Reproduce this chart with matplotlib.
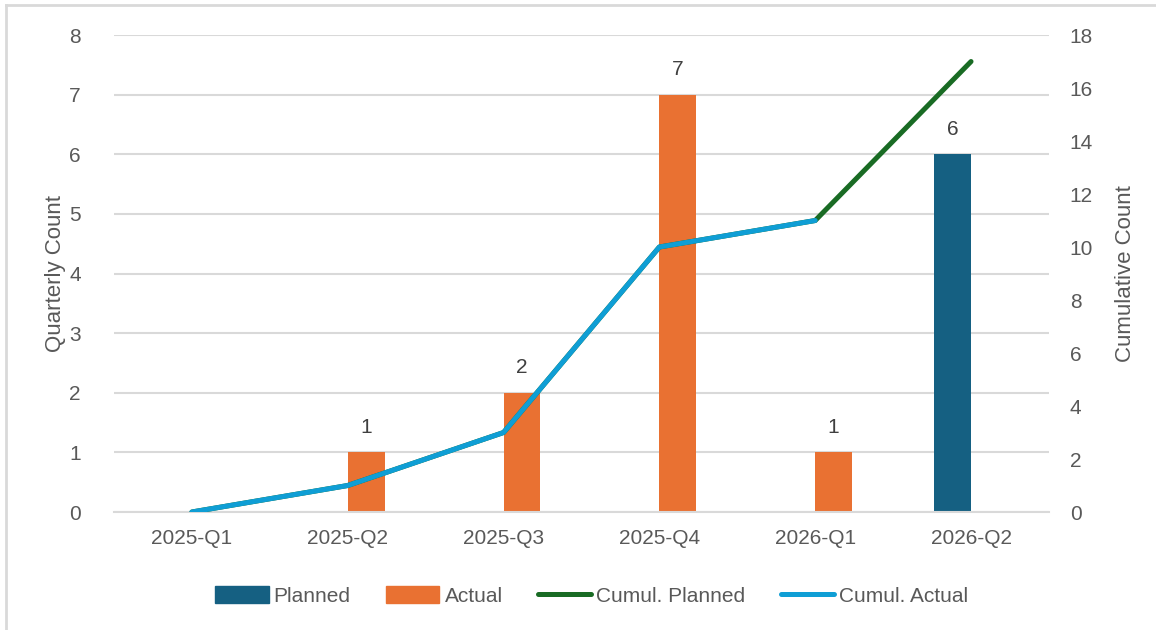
import numpy as np
import matplotlib
matplotlib.use("Agg")
import matplotlib.pyplot as plt
from matplotlib.lines import Line2D
from matplotlib.patches import Patch

quarters = ["2025-Q1", "2025-Q2", "2025-Q3", "2025-Q4", "2026-Q1", "2026-Q2"]
planned = [np.nan, np.nan, np.nan, np.nan, np.nan, 6]
actual = [np.nan, 1, 2, 7, 1, np.nan]
cumul_planned = [0, 1, 3, 10, 11, 17]
cumul_actual = [0, 1, 3, 10, 11, np.nan]

C_PLAN = "#156082"
C_ACT = "#E97132"
C_CPLAN = "#196B24"
C_CACT = "#0F9ED5"
TXT = "#595959"
GRID = "#D9D9D9"

plt.rcParams["font.family"] = ["Liberation Sans", "DejaVu Sans"]

fig = plt.figure(figsize=(11.56, 6.3), dpi=100)
ax = fig.add_axes([0.0986, 0.1873, 0.8088, 0.7571])
ax2 = ax.twinx()

x = np.arange(len(quarters))
w = 0.237
b1 = ax.bar(x - w / 2, planned, w, color=C_PLAN, zorder=2)
b2 = ax.bar(x + w / 2, actual, w, color=C_ACT, zorder=2)
for bars, vals in ((b1, planned), (b2, actual)):
    for rect, v in zip(bars, vals):
        if np.isnan(v):
            continue
        ax.text(rect.get_x() + rect.get_width() / 2, v + 0.26, f"{v:g}",
                ha="center", va="bottom", fontsize=15, color="#404040")

ax2.plot(x, cumul_planned, color=C_CPLAN, lw=3.6, solid_capstyle="round", zorder=3)
ax2.plot(x, cumul_actual, color=C_CACT, lw=3.6, solid_capstyle="round", zorder=4)

ax.set_xlim(-0.5, len(quarters) - 0.5)
ax.set_ylim(0, 8)
ax2.set_ylim(0, 18)
ax.set_yticks(range(0, 9))
ax2.set_yticks(range(0, 19, 2))
ax.set_xticks(x)
ax.set_xticklabels(quarters)

ax.yaxis.grid(True, color=GRID, lw=1.5, zorder=0)
ax.set_axisbelow(True)
for a in (ax, ax2):
    for s in a.spines.values():
        s.set_visible(False)
    a.tick_params(length=0, labelsize=15, colors=TXT)
ax.spines["bottom"].set_visible(True)
ax.spines["bottom"].set_color(GRID)
ax.spines["bottom"].set_linewidth(1.5)
ax.tick_params(axis="y", pad=24)
ax.tick_params(axis="x", pad=12)
ax2.tick_params(axis="y", pad=15)

ax.set_ylabel("Quarterly Count", fontsize=16, color=TXT, labelpad=2)
ax2.set_ylabel("Cumulative Count", fontsize=16, color=TXT, labelpad=16)

handles = [
    Patch(color=C_PLAN, label="Planned"),
    Patch(color=C_ACT, label="Actual"),
    Line2D([], [], color=C_CPLAN, lw=3.6, solid_capstyle="round", label="Cumul. Planned"),
    Line2D([], [], color=C_CACT, lw=3.6, solid_capstyle="round", label="Cumul. Actual"),
]
leg = fig.legend(handles=handles, loc="center", bbox_to_anchor=(0.512, 0.054), ncol=4,
                 frameon=False, handlelength=2.55, handleheight=0.85, handletextpad=0.25,
                 columnspacing=1.7, prop={"size": 15})
for t in leg.get_texts():
    t.set_color(TXT)

# chart frame edges
fig.add_artist(Line2D([0.0048, 0.0048], [0, 0.9925], color=GRID, lw=2, transform=fig.transFigure))
fig.add_artist(Line2D([0.0048, 1], [0.9925, 0.9925], color=GRID, lw=2, transform=fig.transFigure))

fig.savefig("out.png", dpi=100)
